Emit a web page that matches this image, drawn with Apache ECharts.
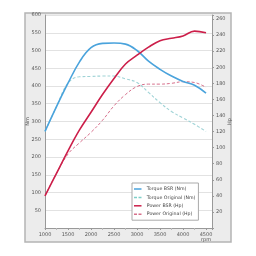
<!DOCTYPE html>
<html>
<head>
<meta charset="utf-8">
<script src="https://cdn.jsdelivr.net/npm/echarts@6/dist/echarts.min.js"></script>
<style>
  html, body { margin: 0; padding: 0; background: #fff; }
  #chart { width: 256px; height: 256px; }
</style>
</head>
<body>
<div id="chart"></div>
<script>
// rpm steps shared by all curves
var rpm = [1000, 1250, 1500, 1750, 2000, 2250, 2500, 2750, 3000, 3250, 3500, 3750, 4000, 4250, 4500];
var torqueBsr = [272, 342, 408, 468, 508, 520, 521, 518, 500, 470, 447, 428, 413, 402, 380];
var torqueOrig = [272, 342, 408, 426, 427, 428, 428, 420, 410, 382, 353, 328, 310, 292, 272];
var powerBsr = [40, 68, 96, 122, 144, 166, 186, 204, 215, 225, 233, 236, 239, 245, 243];
var powerOrig = [40, 68, 92, 106, 119, 134, 152, 166, 176, 179, 179, 180, 182, 181, 175];
var names = ['Torque BSR (Nm)', 'Torque Original (Nm)', 'Power BSR (Hp)', 'Power Original (Hp)'];

function pairs(ys) {
    return rpm.map(function (x, i) { return [x, ys[i]]; });
}

var solidIcon = 'path://M0,0h10v2h-10z';
var dashIcon = 'path://M0,0h4v2h-4zM6,0h4v2h-4z';
var font = 'DejaVu Sans';
var chart = echarts.init(document.getElementById('chart'));
var option = {
    animation: false,
    backgroundColor: '#fff',
    textStyle: { fontFamily: font },
    graphic: [{
        type: 'rect',
        z: -10,
        shape: { x: 25, y: 13, width: 206, height: 229 },
        style: { fill: '#ececec', stroke: '#b4b4b4', lineWidth: 1.5 }
    }],
    grid: {
        left: 45, right: 44, top: 15, bottom: 28,
        show: true, backgroundColor: '#fff', borderWidth: 0
    },
    legend: {
        orient: 'vertical',
        left: 132, top: 183,
        data: [
            { name: names[0], icon: solidIcon },
            { name: names[1], icon: dashIcon },
            { name: names[2], icon: solidIcon },
            { name: names[3], icon: dashIcon }
        ],
        itemWidth: 8, itemHeight: 1.5, itemGap: 2.4,
        padding: [3, 3, 3, 2],
        backgroundColor: '#fff',
        borderColor: '#aaa', borderWidth: 1,
        textStyle: { fontSize: 4.7, lineHeight: 6, color: '#444', fontFamily: font }
    },
    xAxis: {
        type: 'value', min: 1000, max: 4630, interval: 500,
        axisLine: { lineStyle: { color: '#999' } },
        axisTick: { length: 2, lineStyle: { color: '#999' } },
        minorTick: { show: true, splitNumber: 2, length: 2, lineStyle: { color: '#bbb' } },
        splitLine: { show: false },
        axisLabel: {
            fontSize: 5, color: '#555', margin: 4, lineHeight: 5,
            formatter: function (v) {
                if (v % 500 !== 0) return '';
                return v === 4500 ? '4500\nrpm' : String(v);
            }
        }
    },
    yAxis: [{
        type: 'value', min: 0, max: 600, interval: 50,
        name: 'Nm', nameLocation: 'middle', nameRotate: 90, nameGap: 15, nameMoveOverlap: false,
        nameTextStyle: { fontSize: 5, color: '#555' },
        axisLine: { show: true, lineStyle: { color: '#999' } },
        axisTick: { show: false },
        splitLine: { lineStyle: { color: '#e2e2e2' } },
        axisLabel: {
            fontSize: 5, color: '#555', margin: 4,
            formatter: function (v) { return v === 0 ? '' : String(v); }
        }
    }, {
        type: 'value', min: 0, max: 265, interval: 20, position: 'right',
        name: 'Hp', nameLocation: 'middle', nameRotate: 90, nameGap: 15, nameMoveOverlap: false,
        nameTextStyle: { fontSize: 5, color: '#555' },
        axisLine: { show: true, lineStyle: { color: '#999' } },
        axisTick: { show: true, length: 2, lineStyle: { color: '#999' } },
        splitLine: { show: false },
        axisLabel: {
            fontSize: 5, color: '#555', margin: 4,
            formatter: function (v) { return (v === 0 || v % 20 !== 0) ? '' : String(v); }
        }
    }],
    series: [{
        name: names[0], type: 'line', smooth: 0.4, symbol: 'none', yAxisIndex: 0, z: 4,
        lineStyle: { color: '#4aa3dc', width: 1.6 }, itemStyle: { color: '#4aa3dc' },
        data: pairs(torqueBsr)
    }, {
        name: names[1], type: 'line', smooth: 0.4, symbol: 'none', yAxisIndex: 0, z: 3,
        lineStyle: { color: '#9fd3d6', width: 1.1, type: [3, 2] }, itemStyle: { color: '#7fcfc8' },
        data: pairs(torqueOrig)
    }, {
        name: names[2], type: 'line', smooth: 0.4, symbol: 'none', yAxisIndex: 1, z: 4,
        lineStyle: { color: '#cc1f4a', width: 1.6 }, itemStyle: { color: '#cc1f4a' },
        data: pairs(powerBsr)
    }, {
        name: names[3], type: 'line', smooth: 0.4, symbol: 'none', yAxisIndex: 1, z: 3,
        lineStyle: { color: '#d7708c', width: 1, type: [3, 2] }, itemStyle: { color: '#d7708c' },
        data: pairs(powerOrig)
    }]
};
chart.setOption(option);
</script>
</body>
</html>
